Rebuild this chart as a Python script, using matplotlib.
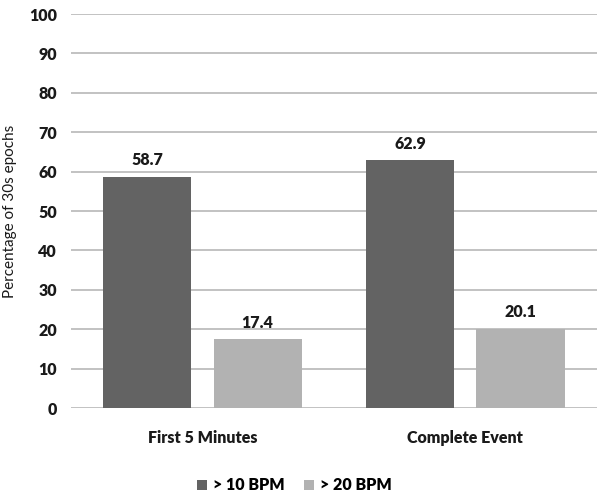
import numpy as np
import matplotlib.pyplot as plt

categorias = ["First 5 Minutes", "Complete Event"]
serie_10 = [58.7, 62.9]
serie_20 = [17.4, 20.1]
nomes_series = ["> 10 BPM", "> 20 BPM"]
cores = ["#636363", "#b2b2b2"]

plt.rcParams["font.family"] = ["Lato", "DejaVu Sans"]

fig = plt.figure(figsize=(6.01, 4.93), dpi=100)
ax = fig.add_axes([0.118, 0.1724, 0.875, 0.7992])

x = np.arange(len(categorias))
largura = 0.335
desloc = 0.21
peso = "heavy"

b1 = ax.bar(x - desloc, serie_10, largura, color=cores[0], label=nomes_series[0], zorder=3)
b2 = ax.bar(x + desloc, serie_20, largura, color=cores[1], label=nomes_series[1], zorder=3)

for barras in (b1, b2):
    for barra in barras:
        h = barra.get_height()
        ax.text(barra.get_x() + barra.get_width() / 2, h + 2.2, f"{h:.1f}",
                ha="center", va="bottom", fontsize=11.5, fontweight=peso, color="#1a1a1a")

ax.set_xlim(-0.5, 1.5)
ax.set_ylim(0, 100)
ax.set_yticks(range(0, 101, 10))
ax.set_xticks(x)
ax.set_xticklabels(categorias)
ax.yaxis.grid(True, color="#b8b8b8", linewidth=1.2, zorder=0)
ax.tick_params(axis="both", length=0, labelsize=11.5, colors="#1a1a1a")
ax.tick_params(axis="y", pad=10)
ax.tick_params(axis="x", pad=16)
for lbl in ax.get_yticklabels() + ax.get_xticklabels():
    lbl.set_fontweight(peso)
for lado in ["left", "right", "top", "bottom"]:
    ax.spines[lado].set_visible(False)

ax.set_ylabel("Percentage of 30s epochs", fontsize=11, color="#1a1a1a", labelpad=9)

fig.legend(loc="lower center", bbox_to_anchor=(0.49, -0.03), ncol=2, frameon=False,
           handlelength=0.6, handleheight=0.6, handletextpad=0.4,
           columnspacing=1.2, prop={"weight": peso, "size": 11.5})

fig.savefig("out.png", dpi=100)
